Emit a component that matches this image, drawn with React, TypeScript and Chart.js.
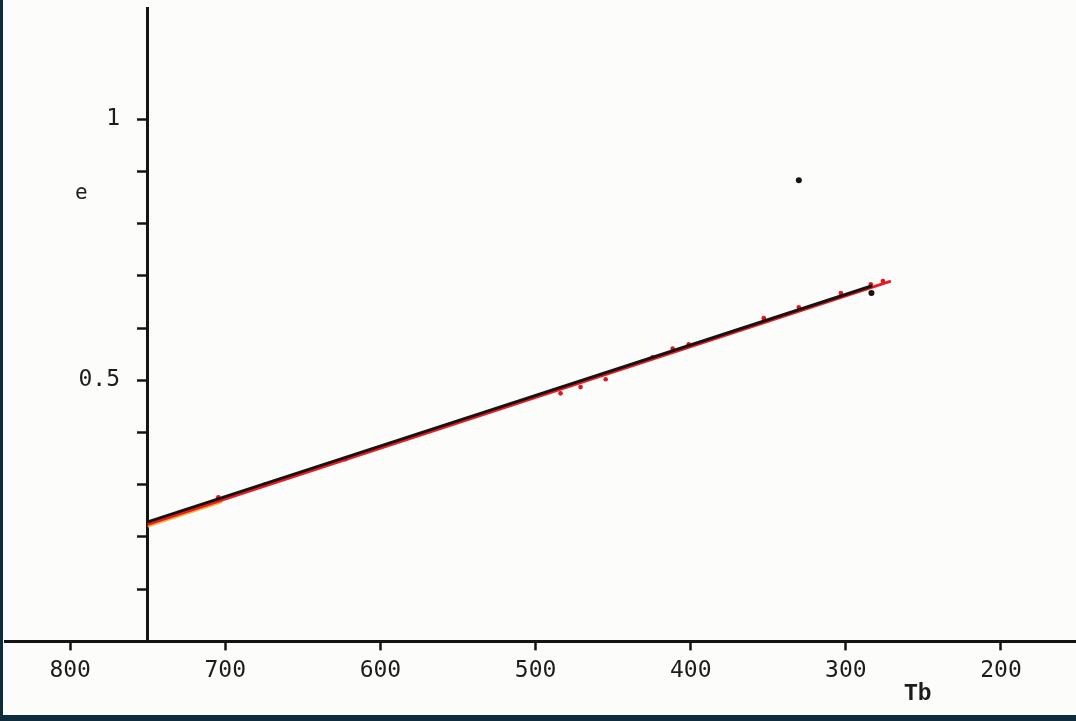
import React, { useEffect, useRef } from "react";
import { Chart, registerables } from "chart.js";

Chart.register(...registerables);

// Axis ticks
const xTickValues = [800, 700, 600, 500, 400, 300, 200];
const yTickValues = [0.1, 0.2, 0.3, 0.4, 0.5, 0.6, 0.7, 0.8, 0.9, 1.0];
// Only two of the e-ticks carry a label; trailing spaces keep the text clear of the tick marks
const yLabelled: Record<string, string> = { "1": "1  ", "0.5": "0.5  " };

// Fitted lines (Tb, e)
const blackFitTb = [750, 283];
const blackFitE = [0.229, 0.681];
const redFitTb = [750, 271];
const redFitE = [0.224, 0.69];
const yellowFitTb = [750, 702];
const yellowFitE = [0.22, 0.267];

// Measured points
const redPointTb = [704.5, 674.2, 622.6, 483.9, 471.0, 454.8, 424.5, 411.6, 401.3, 352.9, 330.3, 303.2, 283.9, 276.1];
const redPointE = [0.276, 0.301, 0.349, 0.475, 0.487, 0.502, 0.544, 0.561, 0.569, 0.619, 0.64, 0.667, 0.684, 0.69];
const blackPointTb = [283.5, 330.3];
const blackPointE = [0.667, 0.883];

const pairs = (xs: number[], ys: number[]) => xs.map((x, i) => ({ x, y: ys[i] }));

const INK = "#141414";
const MONO = "'DejaVu Sans Mono', monospace";

export default function App() {
  const canvasRef = useRef<HTMLCanvasElement | null>(null);

  useEffect(() => {
    const canvas = canvasRef.current;
    if (!canvas) return;
    const chart = new Chart(canvas, {
      type: "scatter",
      data: {
        datasets: [
          {
            label: "black fit",
            data: pairs(blackFitTb, blackFitE),
            showLine: true,
            borderColor: INK,
            borderWidth: 3,
            pointRadius: 0,
          },
          {
            label: "black points",
            data: pairs(blackPointTb, blackPointE),
            showLine: false,
            backgroundColor: INK,
            borderWidth: 0,
            pointRadius: 3,
          },
          {
            label: "red points",
            data: pairs(redPointTb, redPointE),
            showLine: false,
            backgroundColor: "#e3141c",
            borderWidth: 0,
            pointRadius: 2.3,
          },
          {
            label: "red fit",
            data: pairs(redFitTb, redFitE),
            showLine: true,
            borderColor: "#ee1a22",
            borderWidth: 3,
            pointRadius: 0,
          },
          {
            label: "yellow fit",
            data: pairs(yellowFitTb, yellowFitE),
            showLine: true,
            borderColor: "#f2b531",
            borderWidth: 2,
            pointRadius: 0,
          },
        ],
      },
      options: {
        animation: false,
        responsive: true,
        maintainAspectRatio: false,
        layout: { padding: { top: 8, left: 5, right: 0, bottom: 29 } },
        plugins: { legend: { display: false }, tooltip: { enabled: false } },
        scales: {
          x: {
            type: "linear",
            position: "bottom",
            reverse: true,
            min: 151,
            max: 842,
            afterBuildTicks: (scale: any) => {
              scale.ticks = xTickValues.map((value) => ({ value }));
            },
            afterFit: (scale: any) => {
              scale.paddingLeft = 0;
              scale.paddingRight = 0;
            },
            grid: {
              drawOnChartArea: false,
              drawTicks: true,
              tickLength: 9,
              tickWidth: 2.5,
              tickColor: INK,
            },
            border: { display: true, color: INK, width: 3 },
            ticks: {
              autoSkip: false,
              maxRotation: 0,
              padding: 7,
              color: "#1c1c1c",
              font: { family: MONO, size: 23 },
            },
          },
          y: {
            type: "linear",
            position: { x: 750 } as any,
            min: 0,
            max: 1.213,
            afterBuildTicks: (scale: any) => {
              scale.ticks = yTickValues.map((value) => ({ value }));
            },
            afterFit: (scale: any) => {
              scale.paddingTop = 0;
              scale.paddingBottom = 0;
            },
            grid: {
              drawOnChartArea: false,
              drawTicks: true,
              tickLength: 9,
              tickWidth: 2.5,
              tickColor: INK,
            },
            border: { display: true, color: INK, width: 3 },
            ticks: {
              autoSkip: false,
              padding: 0,
              color: "#1c1c1c",
              font: { family: MONO, size: 23 },
              callback: (v: any) => yLabelled[String(Math.round(Number(v) * 10) / 10)] ?? "",
            },
          },
        },
      },
    });
    return () => chart.destroy();
  }, []);

  return (
    <div
      style={{
        position: "fixed",
        left: 0,
        top: 0,
        width: 1076,
        height: 721,
        background: "#fcfcfb",
        overflow: "hidden",
      }}
    >
      <div style={{ position: "absolute", left: 0, top: 0, width: 1081, height: 721 }}>
        <canvas ref={canvasRef} />
      </div>
      <div
        style={{
          position: "absolute",
          left: 75,
          top: 180,
          font: `21px ${MONO}`,
          color: "#1c1c1c",
          lineHeight: "24px",
        }}
      >
        e
      </div>
      <div
        style={{
          position: "absolute",
          left: 904,
          top: 681,
          font: `bold 23px 'Liberation Mono', monospace`,
          color: "#1c1c1c",
          lineHeight: "26px",
        }}
      >
        Tb
      </div>
      <div
        style={{
          position: "absolute",
          inset: 0,
          borderLeft: "3px solid #0f2c3c",
          borderBottom: "6px solid #0f2c3c",
          pointerEvents: "none",
        }}
      />
    </div>
  );
}
